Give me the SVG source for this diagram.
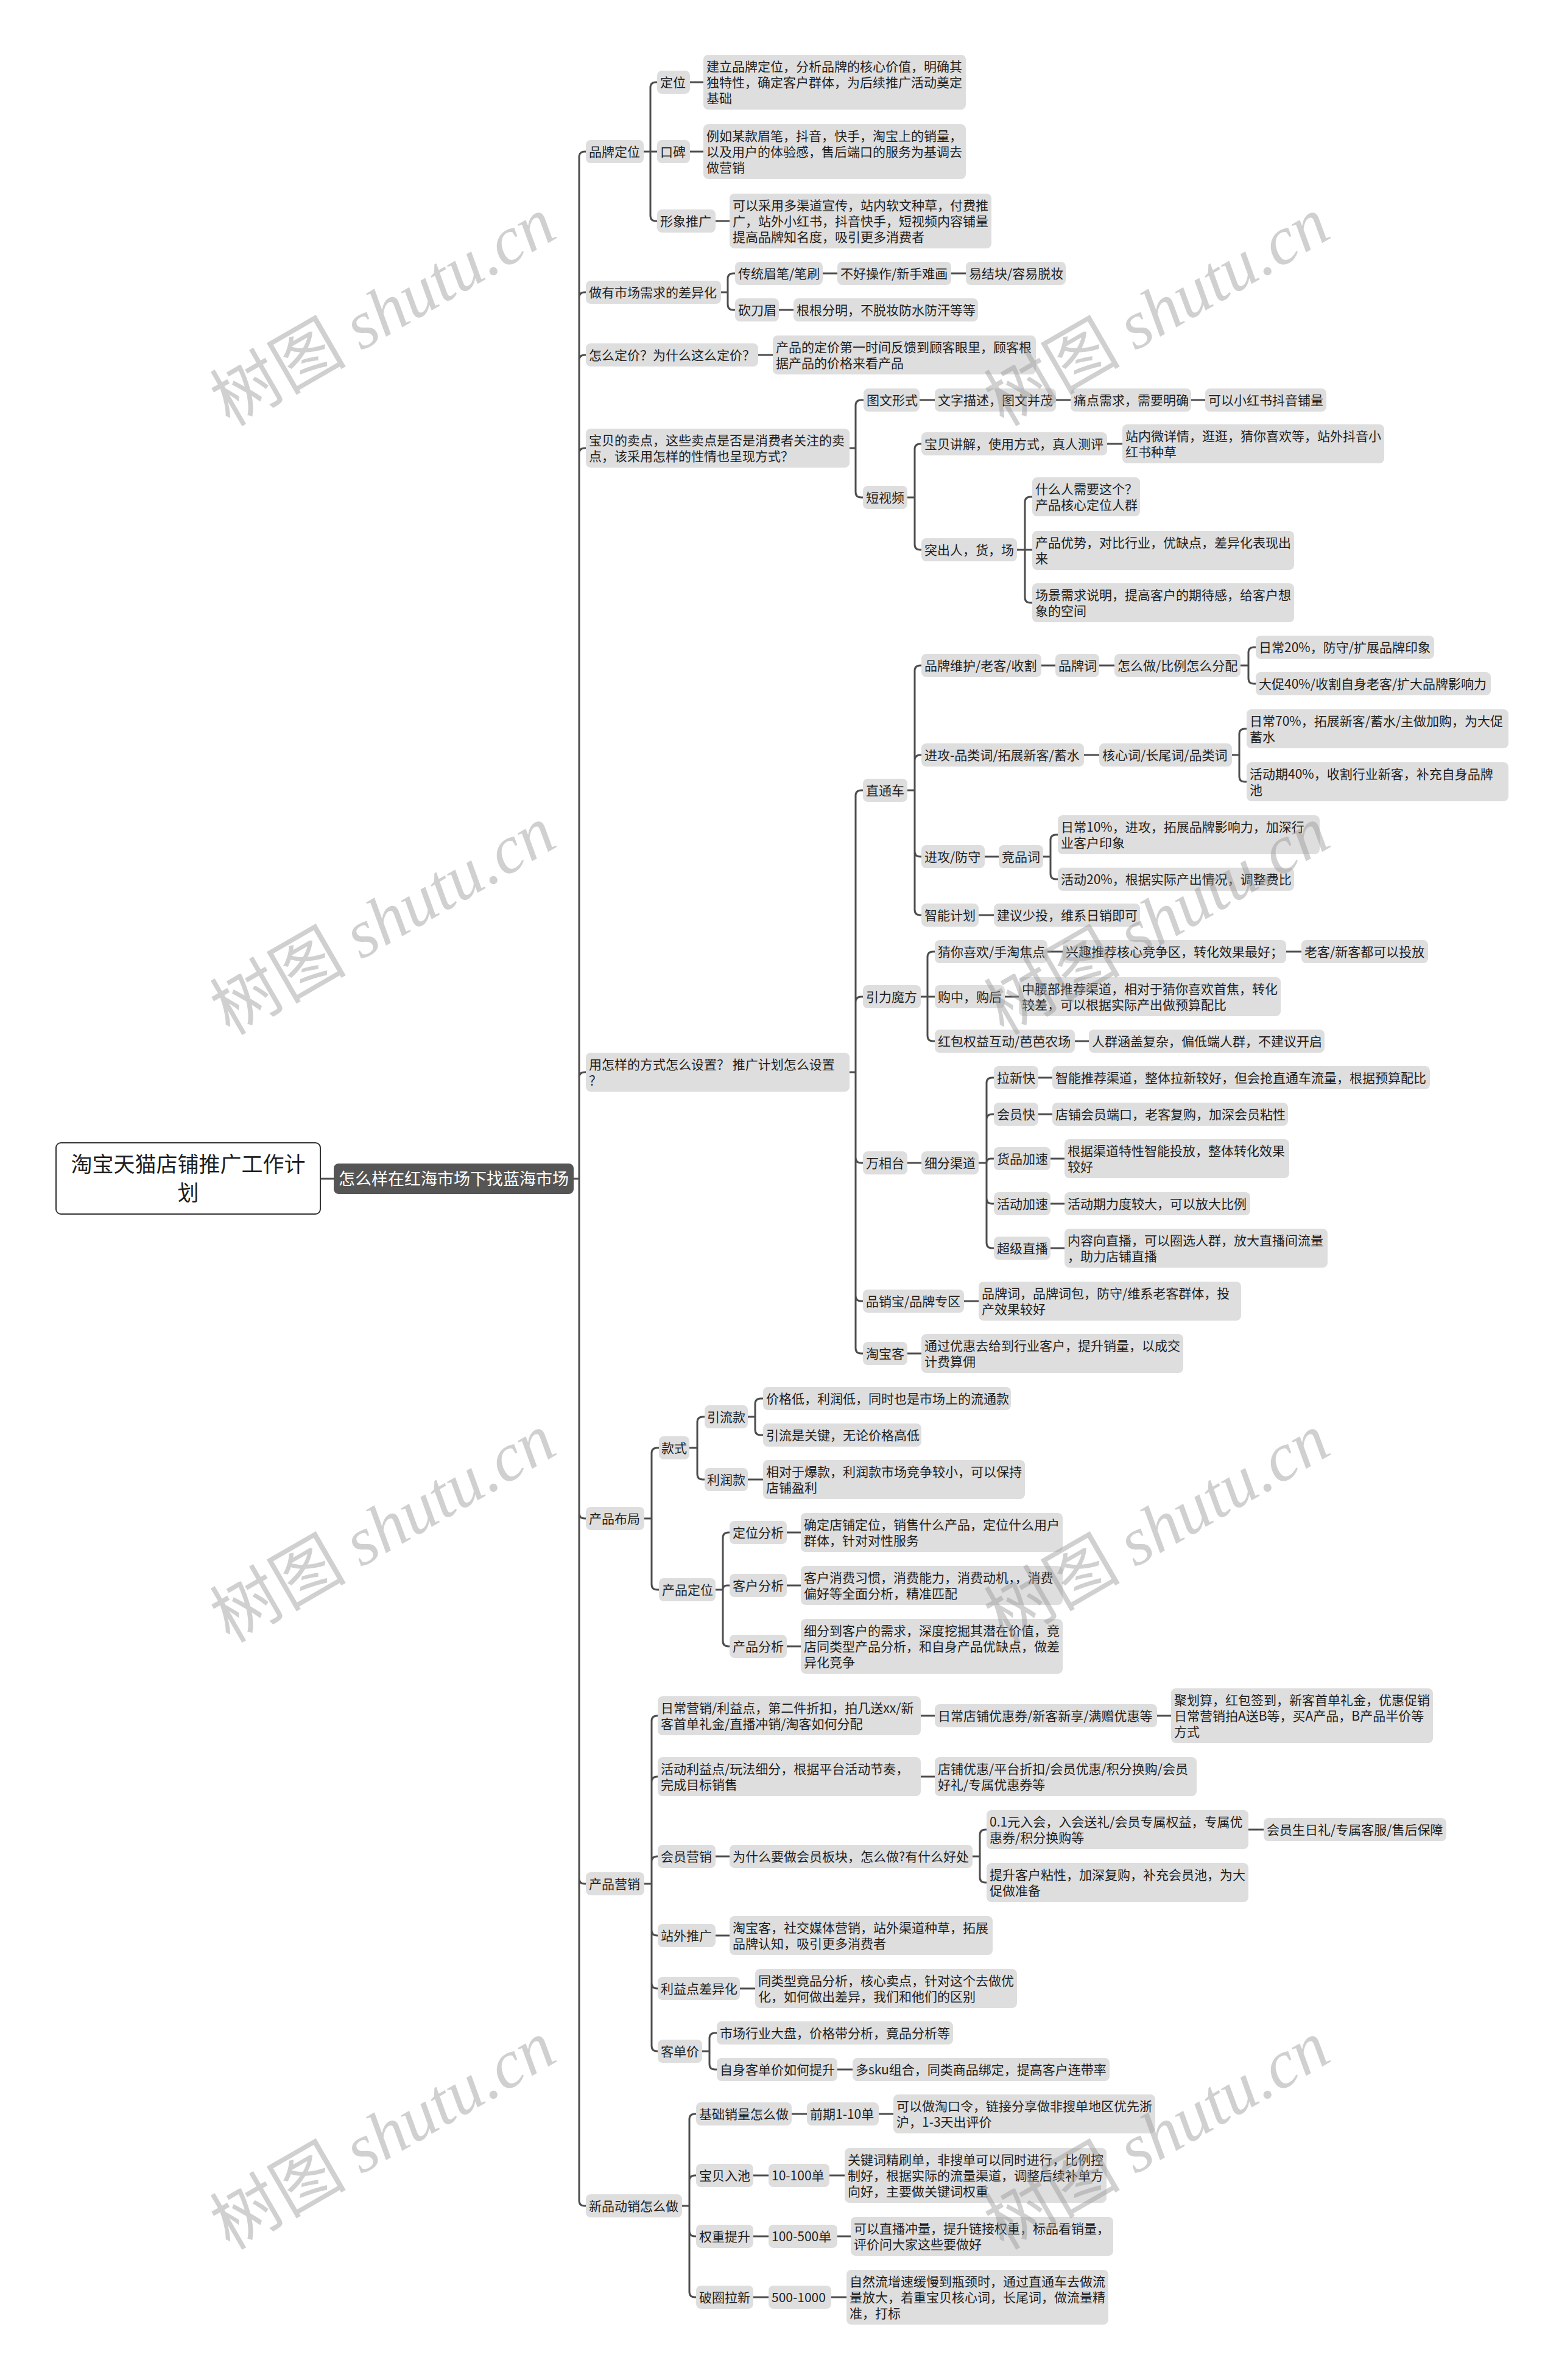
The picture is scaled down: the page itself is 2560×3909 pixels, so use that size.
<svg xmlns="http://www.w3.org/2000/svg" width="2560" height="3909" viewBox="0 0 2560 3909">
<style>
text{font-family:"Noto Sans CJK SC","Noto Sans",sans-serif;font-size:21px;fill:#1e1e1e}
.n rect{fill:#dedede}
.c path{stroke:#4d4d4d;stroke-width:3;fill:none}
.root rect{fill:#fff;stroke:#333;stroke-width:2}
.root text{font-size:35px;text-anchor:middle}
.l1 rect{fill:#555}
.l1 text{font-size:27px;fill:#fff;text-anchor:middle}
.wm text{font-size:112px;fill:#999;opacity:0.45;text-anchor:middle}
.wm .en{font-family:"Liberation Serif",serif;font-style:italic}
</style>
<rect width="2560" height="3909" fill="#fff"/>
<g class="c" id="connectors">
<path d="M526 1936H548"/>
<path d="M942 1936H951M951 1936V258Q951 249 960 249H962M951 1936V489Q951 480 960 480H962M951 1936V592Q951 583 960 583H962M951 1936V745Q951 736 960 736H962M951 1936V1770Q951 1761 960 1761H962M951 1936V2485Q951 2494 960 2494H962M951 1936V3085Q951 3094 960 3094H962M951 1936V3614Q951 3623 960 3623H962"/>
<path d="M1057 249H1068M1068 249V144Q1068 135 1077 135H1079M1068 249H1079M1068 249V354Q1068 363 1077 363H1079"/>
<path d="M1133 135H1155M1133 249H1155M1175 363H1198"/>
<path d="M1184 480H1195M1195 480V458Q1195 449 1204 449H1207M1195 480V500Q1195 509 1204 509H1207"/>
<path d="M1351 449H1375M1562 449H1586M1279 509H1303"/>
<path d="M1245 583H1269"/>
<path d="M1395 736H1405M1405 736V666Q1405 657 1414 657H1418M1405 736V808Q1405 817 1414 817H1417"/>
<path d="M1510 657H1535M1734 657H1758M1956 657H1979"/>
<path d="M1490 817H1502M1502 817V738Q1502 729 1511 729H1513M1502 817V894Q1502 903 1511 903H1513"/>
<path d="M1818 729H1843"/>
<path d="M1670 903H1683M1683 903V825Q1683 816 1692 816H1695M1683 903H1695M1683 903V981Q1683 990 1692 990H1695"/>
<path d="M1395 1761H1405M1405 1761V1307Q1405 1298 1414 1298H1417M1405 1761V1646Q1405 1637 1414 1637H1417M1405 1761V1901Q1405 1910 1414 1910H1417M1405 1761V2128Q1405 2137 1414 2137H1417M1405 1761V2214Q1405 2223 1414 2223H1417"/>
<path d="M1490 1298H1502M1502 1298V1102Q1502 1093 1511 1093H1513M1502 1298V1249Q1502 1240 1511 1240H1513M1502 1298V1398Q1502 1407 1511 1407H1513M1502 1298V1494Q1502 1503 1511 1503H1513"/>
<path d="M1710 1093H1733M1805 1093H1830"/>
<path d="M2037 1093H2050M2050 1093V1072Q2050 1063 2059 1063H2062M2050 1093V1114Q2050 1123 2059 1123H2062"/>
<path d="M1780 1240H1805"/>
<path d="M2023 1240H2035M2035 1240V1206Q2035 1197 2044 1197H2047M2035 1240V1275Q2035 1284 2044 1284H2047"/>
<path d="M1617 1407H1640"/>
<path d="M1713 1407H1725M1725 1407V1380Q1725 1371 1734 1371H1737M1725 1407V1435Q1725 1444 1734 1444H1737"/>
<path d="M1607 1503H1632"/>
<path d="M1512 1637H1523M1523 1637V1572Q1523 1563 1532 1563H1535M1523 1637H1535M1523 1637V1701Q1523 1710 1532 1710H1535"/>
<path d="M1720 1563H1745M2112 1563H2137M1650 1637H1673M1765 1710H1788"/>
<path d="M1490 1910H1513"/>
<path d="M1607 1910H1620M1620 1910V1779Q1620 1770 1629 1770H1632M1620 1910V1839Q1620 1830 1629 1830H1632M1620 1910Q1620 1903 1627 1903H1632M1620 1910V1968Q1620 1977 1629 1977H1632M1620 1910V2041Q1620 2050 1629 2050H1632"/>
<path d="M1705 1770H1728M1705 1830H1728M1725 1903H1748M1725 1977H1748M1725 2050H1748"/>
<path d="M1583 2137H1607M1490 2223H1513"/>
<path d="M1058 2494H1070M1070 2494V2387Q1070 2378 1079 2378H1082M1070 2494V2602Q1070 2611 1079 2611H1082"/>
<path d="M1132 2378H1145M1145 2378V2336Q1145 2327 1154 2327H1157M1145 2378V2421Q1145 2430 1154 2430H1157"/>
<path d="M1228 2327H1240M1240 2327V2306Q1240 2297 1249 2297H1253M1240 2327V2348Q1240 2357 1249 2357H1253"/>
<path d="M1228 2430H1253"/>
<path d="M1175 2611H1187M1187 2611V2526Q1187 2517 1196 2517H1198M1187 2611Q1187 2604 1194 2604H1198M1187 2611V2695Q1187 2704 1196 2704H1198"/>
<path d="M1292 2517H1315M1292 2604H1315M1292 2704H1315"/>
<path d="M1058 3094H1070M1070 3094V2827Q1070 2818 1079 2818H1080M1070 3094V2927Q1070 2918 1079 2918H1080M1070 3094V3058Q1070 3049 1079 3049H1080M1070 3094V3170Q1070 3179 1079 3179H1080M1070 3094V3257Q1070 3266 1079 3266H1080M1070 3094V3360Q1070 3369 1079 3369H1080"/>
<path d="M1512 2818H1535M1900 2818H1923M1512 2918H1535M1175 3049H1198"/>
<path d="M1597 3049H1609M1609 3049V3014Q1609 3005 1618 3005H1620M1609 3049V3083Q1609 3092 1618 3092H1620"/>
<path d="M2050 3005H2075M1175 3179H1198M1215 3266H1240"/>
<path d="M1153 3369H1165M1165 3369V3348Q1165 3339 1174 3339H1177M1165 3369V3390Q1165 3399 1174 3399H1177"/>
<path d="M1375 3399H1400"/>
<path d="M1120 3623H1132M1132 3623V3481Q1132 3472 1141 3472H1143M1132 3623V3582Q1132 3573 1141 3573H1143M1132 3623V3664Q1132 3673 1141 3673H1143M1132 3623V3764Q1132 3773 1141 3773H1143"/>
<path d="M1300 3472H1325M1443 3472H1467M1237 3573H1262M1362 3573H1387M1237 3673H1262M1375 3673H1397M1237 3773H1262M1365 3773H1390"/>
</g>
<g id="root" class="root"><rect x="92" y="1877" width="434" height="117" rx="8"/><text x="309" y="1925">淘宝天猫店铺推广工作计</text><text x="309" y="1972">划</text></g>
<g id="l1" class="l1"><rect x="548" y="1911" width="394" height="50" rx="8"/><text x="745" y="1946">怎么样在红海市场下找蓝海市场</text></g>
<g class="n">
<g id="n1"><rect x="962" y="230" width="95" height="38" rx="8"/><text x="967" y="257">品牌定位</text></g>
<g id="n2"><rect x="962" y="461" width="222" height="38" rx="8"/><text x="967" y="488">做有市场需求的差异化</text></g>
<g id="n3"><rect x="962" y="564" width="283" height="38" rx="8"/><text x="967" y="591">怎么定价？为什么这么定价？</text></g>
<g id="n4"><rect x="962" y="704" width="433" height="64" rx="8"/><text x="967" y="731">宝贝的卖点，这些卖点是否是消费者关注的卖</text><text x="967" y="757">点，该采用怎样的性情也呈现方式？</text></g>
<g id="n5"><rect x="962" y="1729" width="433" height="64" rx="8"/><text x="967" y="1756"> 用怎样的方式怎么设置？ 推广计划怎么设置</text><text x="967" y="1782">？</text></g>
<g id="n6"><rect x="962" y="2475" width="96" height="38" rx="8"/><text x="967" y="2502">产品布局</text></g>
<g id="n7"><rect x="962" y="3075" width="96" height="38" rx="8"/><text x="967" y="3102">产品营销</text></g>
<g id="n8"><rect x="962" y="3604" width="158" height="38" rx="8"/><text x="967" y="3631">新品动销怎么做</text></g>

<g id="n1a"><rect x="1079" y="116" width="54" height="38" rx="8"/><text x="1084" y="143">定位</text></g>
<g id="n1a1"><rect x="1155" y="90" width="431" height="90" rx="8"/><text x="1160" y="117">建立品牌定位，分析品牌的核心价值，明确其</text><text x="1160" y="143">独特性，确定客户群体，为后续推广活动奠定</text><text x="1160" y="169">基础</text></g>
<g id="n1b"><rect x="1079" y="230" width="54" height="38" rx="8"/><text x="1084" y="257">口碑</text></g>
<g id="n1b1"><rect x="1155" y="204" width="431" height="90" rx="8"/><text x="1160" y="231">例如某款眉笔，抖音，快手，淘宝上的销量，</text><text x="1160" y="257">以及用户的体验感，售后端口的服务为基调去</text><text x="1160" y="283">做营销</text></g>
<g id="n1c"><rect x="1079" y="344" width="96" height="38" rx="8"/><text x="1084" y="371">形象推广</text></g>
<g id="n1c1"><rect x="1198" y="318" width="430" height="90" rx="8"/><text x="1203" y="345">可以采用多渠道宣传，站内软文种草，付费推</text><text x="1203" y="371">广，站外小红书，抖音快手，短视频内容铺量</text><text x="1203" y="397">提高品牌知名度，吸引更多消费者</text></g>

<g id="n2a"><rect x="1207" y="430" width="144" height="38" rx="8"/><text x="1212" y="457">传统眉笔/笔刷</text></g>
<g id="n2a1"><rect x="1375" y="430" width="187" height="38" rx="8"/><text x="1380" y="457">不好操作/新手难画</text></g>
<g id="n2a2"><rect x="1586" y="430" width="164" height="38" rx="8"/><text x="1591" y="457">易结块/容易脱妆</text></g>
<g id="n2b"><rect x="1207" y="490" width="72" height="38" rx="8"/><text x="1212" y="517">砍刀眉</text></g>
<g id="n2b1"><rect x="1303" y="490" width="303" height="38" rx="8"/><text x="1308" y="517">根根分明，不脱妆防水防汗等等</text></g>
<g id="n3a"><rect x="1269" y="551" width="432" height="64" rx="8"/><text x="1274" y="578">产品的定价第一时间反馈到顾客眼里，顾客根</text><text x="1274" y="604">据产品的价格来看产品</text></g>

<g id="n4a"><rect x="1418" y="638" width="92" height="38" rx="8"/><text x="1423" y="665">图文形式</text></g>
<g id="n4a1"><rect x="1535" y="638" width="199" height="38" rx="8"/><text x="1540" y="665">文字描述，图文并茂</text></g>
<g id="n4a2"><rect x="1758" y="638" width="198" height="38" rx="8"/><text x="1763" y="665">痛点需求，需要明确</text></g>
<g id="n4a3"><rect x="1979" y="638" width="199" height="38" rx="8"/><text x="1984" y="665">可以小红书抖音铺量</text></g>
<g id="n4b"><rect x="1417" y="798" width="73" height="38" rx="8"/><text x="1422" y="825">短视频</text></g>
<g id="n4b1"><rect x="1513" y="710" width="305" height="38" rx="8"/><text x="1518" y="737">宝贝讲解，使用方式，真人测评</text></g>
<g id="n4b1a"><rect x="1843" y="697" width="430" height="64" rx="8"/><text x="1848" y="724">站内微详情，逛逛，猜你喜欢等，站外抖音小</text><text x="1848" y="750">红书种草</text></g>
<g id="n4b2"><rect x="1513" y="884" width="157" height="38" rx="8"/><text x="1518" y="911">突出人，货，场</text></g>
<g id="n4b2a"><rect x="1695" y="784" width="177" height="64" rx="8"/><text x="1700" y="811">什么人需要这个？</text><text x="1700" y="837">产品核心定位人群</text></g>
<g id="n4b2b"><rect x="1695" y="872" width="430" height="64" rx="8"/><text x="1700" y="899">产品优势，对比行业，优缺点，差异化表现出</text><text x="1700" y="925">来</text></g>
<g id="n4b2c"><rect x="1695" y="958" width="430" height="64" rx="8"/><text x="1700" y="985">场景需求说明，提高客户的期待感，给客户想</text><text x="1700" y="1011">象的空间</text></g>

<g id="n5a"><rect x="1417" y="1279" width="73" height="38" rx="8"/><text x="1422" y="1306">直通车</text></g>
<g id="n5a1"><rect x="1513" y="1074" width="197" height="38" rx="8"/><text x="1518" y="1101">品牌维护/老客/收割</text></g>
<g id="n5a1a"><rect x="1733" y="1074" width="72" height="38" rx="8"/><text x="1738" y="1101">品牌词</text></g>
<g id="n5a1b"><rect x="1830" y="1074" width="207" height="38" rx="8"/><text x="1835" y="1101">怎么做/比例怎么分配</text></g>
<g id="n5a1c"><rect x="2062" y="1044" width="293" height="38" rx="8"/><text x="2067" y="1071">日常20%，防守/扩展品牌印象</text></g>
<g id="n5a1d"><rect x="2062" y="1104" width="386" height="38" rx="8"/><text x="2067" y="1131">大促40%/收割自身老客/扩大品牌影响力</text></g>
<g id="n5a2"><rect x="1513" y="1221" width="267" height="38" rx="8"/><text x="1518" y="1248">进攻-品类词/拓展新客/蓄水</text></g>
<g id="n5a2a"><rect x="1805" y="1221" width="218" height="38" rx="8"/><text x="1810" y="1248">核心词/长尾词/品类词</text></g>
<g id="n5a2b"><rect x="2047" y="1165" width="430" height="64" rx="8"/><text x="2052" y="1192">日常70%，拓展新客/蓄水/主做加购，为大促</text><text x="2052" y="1218">蓄水</text></g>
<g id="n5a2c"><rect x="2047" y="1252" width="430" height="64" rx="8"/><text x="2052" y="1279">活动期40%，收割行业新客，补充自身品牌</text><text x="2052" y="1305">池</text></g>
<g id="n5a3"><rect x="1513" y="1388" width="104" height="38" rx="8"/><text x="1518" y="1415">进攻/防守</text></g>
<g id="n5a3a"><rect x="1640" y="1388" width="73" height="38" rx="8"/><text x="1645" y="1415">竞品词</text></g>
<g id="n5a3b"><rect x="1737" y="1339" width="430" height="64" rx="8"/><text x="1742" y="1366">日常10%，进攻，拓展品牌影响力，加深行</text><text x="1742" y="1392">业客户印象</text></g>
<g id="n5a3c"><rect x="1737" y="1425" width="388" height="38" rx="8"/><text x="1742" y="1452">活动20%，根据实际产出情况，调整费比</text></g>
<g id="n5a4"><rect x="1513" y="1484" width="94" height="38" rx="8"/><text x="1518" y="1511">智能计划</text></g>
<g id="n5a4a"><rect x="1632" y="1484" width="240" height="38" rx="8"/><text x="1637" y="1511">建议少投，维系日销即可</text></g>

<g id="n5b"><rect x="1417" y="1618" width="95" height="38" rx="8"/><text x="1422" y="1645">引力魔方</text></g>
<g id="n5b1"><rect x="1535" y="1544" width="185" height="38" rx="8"/><text x="1540" y="1571">猜你喜欢/手淘焦点</text></g>
<g id="n5b1a"><rect x="1745" y="1544" width="367" height="38" rx="8"/><text x="1750" y="1571">兴趣推荐核心竞争区，转化效果最好；</text></g>
<g id="n5b1b"><rect x="2137" y="1544" width="208" height="38" rx="8"/><text x="2142" y="1571">老客/新客都可以投放</text></g>
<g id="n5b2"><rect x="1535" y="1618" width="115" height="38" rx="8"/><text x="1540" y="1645">购中，购后</text></g>
<g id="n5b2a"><rect x="1673" y="1605" width="430" height="64" rx="8"/><text x="1678" y="1632">中腰部推荐渠道，相对于猜你喜欢首焦，转化</text><text x="1678" y="1658">较差，可以根据实际产出做预算配比</text></g>
<g id="n5b3"><rect x="1535" y="1691" width="230" height="38" rx="8"/><text x="1540" y="1718">红包权益互动/芭芭农场</text></g>
<g id="n5b3a"><rect x="1788" y="1691" width="387" height="38" rx="8"/><text x="1793" y="1718">人群涵盖复杂，偏低端人群，不建议开启</text></g>

<g id="n5c"><rect x="1417" y="1891" width="73" height="38" rx="8"/><text x="1422" y="1918">万相台</text></g>
<g id="n5c1"><rect x="1513" y="1891" width="94" height="38" rx="8"/><text x="1518" y="1918">细分渠道</text></g>
<g id="n5c1a"><rect x="1632" y="1751" width="73" height="38" rx="8"/><text x="1637" y="1778">拉新快</text></g>
<g id="n5c1a1"><rect x="1728" y="1751" width="620" height="38" rx="8"/><text x="1733" y="1778">智能推荐渠道，整体拉新较好，但会抢直通车流量，根据预算配比</text></g>
<g id="n5c1b"><rect x="1632" y="1811" width="73" height="38" rx="8"/><text x="1637" y="1838">会员快</text></g>
<g id="n5c1b1"><rect x="1728" y="1811" width="387" height="38" rx="8"/><text x="1733" y="1838">店铺会员端口，老客复购，加深会员粘性</text></g>
<g id="n5c1c"><rect x="1632" y="1884" width="93" height="38" rx="8"/><text x="1637" y="1911">货品加速</text></g>
<g id="n5c1c1"><rect x="1748" y="1871" width="369" height="64" rx="8"/><text x="1753" y="1898">根据渠道特性智能投放，整体转化效果</text><text x="1753" y="1924">较好</text></g>
<g id="n5c1d"><rect x="1632" y="1958" width="93" height="38" rx="8"/><text x="1637" y="1985">活动加速</text></g>
<g id="n5c1d1"><rect x="1748" y="1958" width="305" height="38" rx="8"/><text x="1753" y="1985">活动期力度较大，可以放大比例</text></g>
<g id="n5c1e"><rect x="1632" y="2031" width="93" height="38" rx="8"/><text x="1637" y="2058">超级直播</text></g>
<g id="n5c1e1"><rect x="1748" y="2018" width="432" height="64" rx="8"/><text x="1753" y="2045">内容向直播，可以圈选人群，放大直播间流量</text><text x="1753" y="2071">，助力店铺直播</text></g>
<g id="n5d"><rect x="1417" y="2118" width="166" height="38" rx="8"/><text x="1422" y="2145">品销宝/品牌专区</text></g>
<g id="n5d1"><rect x="1607" y="2105" width="431" height="64" rx="8"/><text x="1612" y="2132">品牌词，品牌词包，防守/维系老客群体，投</text><text x="1612" y="2158">产效果较好</text></g>
<g id="n5e"><rect x="1417" y="2204" width="73" height="38" rx="8"/><text x="1422" y="2231">淘宝客</text></g>
<g id="n5e1"><rect x="1513" y="2191" width="430" height="64" rx="8"/><text x="1518" y="2218">通过优惠去给到行业客户，提升销量，以成交</text><text x="1518" y="2244">计费算佣</text></g>

<g id="n6a"><rect x="1082" y="2359" width="50" height="38" rx="8"/><text x="1086" y="2386">款式</text></g>
<g id="n6a1"><rect x="1157" y="2308" width="71" height="38" rx="8"/><text x="1161" y="2335">引流款</text></g>
<g id="n6a1a"><rect x="1253" y="2278" width="407" height="38" rx="8"/><text x="1258" y="2305">价格低，利润低，同时也是市场上的流通款</text></g>
<g id="n6a1b"><rect x="1253" y="2338" width="260" height="38" rx="8"/><text x="1258" y="2365">引流是关键，无论价格高低</text></g>
<g id="n6a2"><rect x="1157" y="2411" width="71" height="38" rx="8"/><text x="1161" y="2438">利润款</text></g>
<g id="n6a2a"><rect x="1253" y="2398" width="430" height="64" rx="8"/><text x="1258" y="2425">相对于爆款，利润款市场竞争较小，可以保持</text><text x="1258" y="2451">店铺盈利</text></g>
<g id="n6b"><rect x="1082" y="2592" width="93" height="38" rx="8"/><text x="1087" y="2619">产品定位</text></g>
<g id="n6b1"><rect x="1198" y="2498" width="94" height="38" rx="8"/><text x="1203" y="2525">定位分析</text></g>
<g id="n6b1a"><rect x="1315" y="2485" width="430" height="64" rx="8"/><text x="1320" y="2512">确定店铺定位，销售什么产品，定位什么用户</text><text x="1320" y="2538">群体，针对对性服务</text></g>
<g id="n6b2"><rect x="1198" y="2585" width="94" height="38" rx="8"/><text x="1203" y="2612">客户分析</text></g>
<g id="n6b2a"><rect x="1315" y="2572" width="430" height="64" rx="8"/><text x="1320" y="2599">客户消费习惯，消费能力，消费动机，，消费</text><text x="1320" y="2625">偏好等全面分析，精准匹配</text></g>
<g id="n6b3"><rect x="1198" y="2685" width="94" height="38" rx="8"/><text x="1203" y="2712">产品分析</text></g>
<g id="n6b3a"><rect x="1315" y="2659" width="430" height="90" rx="8"/><text x="1320" y="2686">细分到客户的需求，深度挖掘其潜在价值，竟</text><text x="1320" y="2712">店同类型产品分析，和自身产品优缺点，做差</text><text x="1320" y="2738">异化竞争</text></g>

<g id="n7a"><rect x="1080" y="2786" width="432" height="64" rx="8"/><text x="1085" y="2813">日常营销/利益点，第二件折扣，拍几送xx/新</text><text x="1085" y="2839">客首单礼金/直播冲销/淘客如何分配</text></g>
<g id="n7a1"><rect x="1535" y="2799" width="365" height="38" rx="8"/><text x="1540" y="2826">日常店铺优惠券/新客新享/满赠优惠等</text></g>
<g id="n7a2"><rect x="1923" y="2773" width="430" height="90" rx="8"/><text x="1928" y="2800">聚划算，红包签到，新客首单礼金，优惠促销</text><text x="1928" y="2826">日常营销拍A送B等，买A产品，B产品半价等</text><text x="1928" y="2852">方式</text></g>
<g id="n7b"><rect x="1080" y="2886" width="432" height="64" rx="8"/><text x="1085" y="2913">活动利益点/玩法细分，根据平台活动节奏，</text><text x="1085" y="2939">完成目标销售</text></g>
<g id="n7b1"><rect x="1535" y="2886" width="430" height="64" rx="8"/><text x="1540" y="2913">店铺优惠/平台折扣/会员优惠/积分换购/会员</text><text x="1540" y="2939">好礼/专属优惠券等</text></g>
<g id="n7c"><rect x="1080" y="3030" width="95" height="38" rx="8"/><text x="1085" y="3057">会员营销</text></g>
<g id="n7c1"><rect x="1198" y="3030" width="399" height="38" rx="8"/><text x="1203" y="3057">为什么要做会员板块，怎么做?有什么好处</text></g>
<g id="n7c1a"><rect x="1620" y="2973" width="430" height="64" rx="8"/><text x="1625" y="3000">0.1元入会，入会送礼/会员专属权益，专属优</text><text x="1625" y="3026">惠券/积分换购等</text></g>
<g id="n7c1a1"><rect x="2075" y="2986" width="300" height="38" rx="8"/><text x="2080" y="3013">会员生日礼/专属客服/售后保障</text></g>
<g id="n7c1b"><rect x="1620" y="3060" width="430" height="64" rx="8"/><text x="1625" y="3087">提升客户粘性，加深复购，补充会员池，为大</text><text x="1625" y="3113">促做准备</text></g>
<g id="n7d"><rect x="1080" y="3160" width="95" height="38" rx="8"/><text x="1085" y="3187">站外推广</text></g>
<g id="n7d1"><rect x="1198" y="3147" width="432" height="64" rx="8"/><text x="1203" y="3174">淘宝客，社交媒体营销，站外渠道种草，拓展</text><text x="1203" y="3200">品牌认知，吸引更多消费者</text></g>
<g id="n7e"><rect x="1080" y="3247" width="135" height="38" rx="8"/><text x="1085" y="3274">利益点差异化</text></g>
<g id="n7e1"><rect x="1240" y="3234" width="430" height="64" rx="8"/><text x="1245" y="3261">同类型竟品分析，核心卖点，针对这个去做优</text><text x="1245" y="3287">化，如何做出差异，我们和他们的区别</text></g>
<g id="n7f"><rect x="1080" y="3350" width="73" height="38" rx="8"/><text x="1085" y="3377">客单价</text></g>
<g id="n7f1"><rect x="1177" y="3320" width="388" height="38" rx="8"/><text x="1182" y="3347">市场行业大盘，价格带分析，竟品分析等</text></g>
<g id="n7f2"><rect x="1177" y="3380" width="198" height="38" rx="8"/><text x="1182" y="3407">自身客单价如何提升</text></g>
<g id="n7f2a"><rect x="1400" y="3380" width="422" height="38" rx="8"/><text x="1405" y="3407">多sku组合，同类商品绑定，提高客户连带率</text></g>

<g id="n8a"><rect x="1143" y="3453" width="157" height="38" rx="8"/><text x="1148" y="3480">基础销量怎么做</text></g>
<g id="n8a1"><rect x="1325" y="3453" width="118" height="38" rx="8"/><text x="1330" y="3480">前期1-10单</text></g>
<g id="n8a2"><rect x="1467" y="3440" width="430" height="64" rx="8"/><text x="1472" y="3467">可以做淘口令，链接分享做非搜单地区优先浙</text><text x="1472" y="3493">沪，1-3天出评价</text></g>
<g id="n8b"><rect x="1143" y="3554" width="94" height="38" rx="8"/><text x="1148" y="3581">宝贝入池</text></g>
<g id="n8b1"><rect x="1262" y="3554" width="100" height="38" rx="8"/><text x="1267" y="3581">10-100单</text></g>
<g id="n8b2"><rect x="1387" y="3528" width="430" height="90" rx="8"/><text x="1392" y="3555">关键词精刷单，非搜单可以同时进行，比例控</text><text x="1392" y="3581">制好，根据实际的流量渠道，调整后续补单方</text><text x="1392" y="3607">向好，主要做关键词权重</text></g>
<g id="n8c"><rect x="1143" y="3654" width="94" height="38" rx="8"/><text x="1148" y="3681">权重提升</text></g>
<g id="n8c1"><rect x="1262" y="3654" width="113" height="38" rx="8"/><text x="1267" y="3681">100-500单</text></g>
<g id="n8c2"><rect x="1397" y="3641" width="431" height="64" rx="8"/><text x="1402" y="3668">可以直播冲量，提升链接权重，标品看销量，</text><text x="1402" y="3694">评价问大家这些要做好</text></g>
<g id="n8d"><rect x="1143" y="3754" width="94" height="38" rx="8"/><text x="1148" y="3781">破圈拉新</text></g>
<g id="n8d1"><rect x="1262" y="3754" width="103" height="38" rx="8"/><text x="1267" y="3781">500-1000</text></g>
<g id="n8d2"><rect x="1390" y="3728" width="430" height="90" rx="8"/><text x="1395" y="3755">自然流增速缓慢到瓶颈时，通过直通车去做流</text><text x="1395" y="3781">量放大，着重宝贝核心词，长尾词，做流量精</text><text x="1395" y="3807">准，打标</text></g>
</g>
<g class="wm" id="watermarks">
<text transform="translate(648 545) rotate(-30)">树图 <tspan class="en">shutu.cn</tspan></text>
<text transform="translate(1919 545) rotate(-30)">树图 <tspan class="en">shutu.cn</tspan></text>
<text transform="translate(648 1545) rotate(-30)">树图 <tspan class="en">shutu.cn</tspan></text>
<text transform="translate(1919 1545) rotate(-30)">树图 <tspan class="en">shutu.cn</tspan></text>
<text transform="translate(648 2543) rotate(-30)">树图 <tspan class="en">shutu.cn</tspan></text>
<text transform="translate(1919 2543) rotate(-30)">树图 <tspan class="en">shutu.cn</tspan></text>
<text transform="translate(648 3540) rotate(-30)">树图 <tspan class="en">shutu.cn</tspan></text>
<text transform="translate(1919 3540) rotate(-30)">树图 <tspan class="en">shutu.cn</tspan></text>
</g>
</svg>
